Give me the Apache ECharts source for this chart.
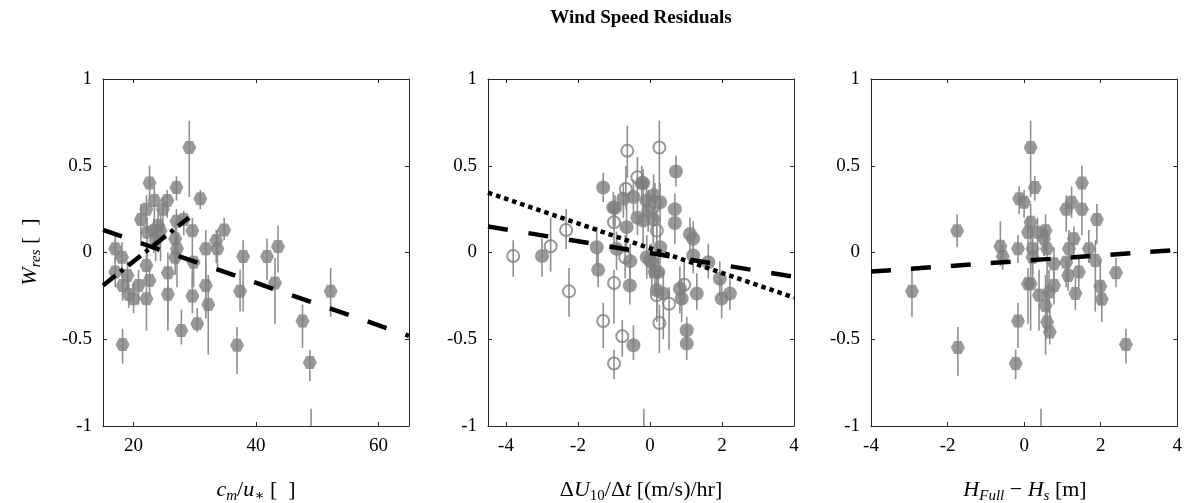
<!DOCTYPE html>
<html><head><meta charset="utf-8">
<script src="https://cdn.jsdelivr.net/npm/echarts@6/dist/echarts.min.js"></script>
<style>html,body{margin:0;padding:0;background:#fff}#c{width:1185px;height:503px}</style>
</head><body><div id="c"></div>
<script>
// ---------- Panel 1: c_m/u_* ----------
const p1Ticks = [20, 40, 60];
const p1x  = [29.1,22.6,27.0,30.9,23.4,25.5,22.1,24.8,21.2,27.0,28.2,24.0,22.2,23.3,24.4,29.6,34.8,33.5,23.6,26.8,27.1,31.8,33.7,17.0,18.1,26.8,22.1,29.8,37.9,41.8,43.6,17.0,19.0,25.6,22.6,18.2,20.8,31.8,43.1,19.2,25.6,37.4,20.0,22.1,29.6,32.2,30.4,27.8,18.2,36.9,47.6,52.2,48.8,49.0];
const p1y  = [0.605,0.40,0.375,0.31,0.30,0.30,0.25,0.25,0.19,0.18,0.19,0.155,0.117,0.126,0.126,0.126,0.13,0.069,0.069,0.079,0.021,0.021,0.021,0.021,-0.027,-0.027,-0.075,-0.056,-0.023,-0.023,0.034,-0.113,-0.132,-0.117,-0.161,-0.19,-0.19,-0.19,-0.176,-0.24,-0.24,-0.224,-0.266,-0.266,-0.25,-0.30,-0.41,-0.45,-0.53,-0.535,-0.395,-0.224,-0.634,-1.2];
const p1lo = [0.32,0.31,0.30,0.25,0.20,0.20,0.12,0.10,0.05,0.05,0.10,0.00,-0.05,0.00,-0.05,-0.20,0.07,-0.06,-0.05,-0.02,-0.20,-0.35,-0.10,-0.06,-0.10,-0.13,-0.18,-0.20,-0.34,-0.16,-0.115,-0.20,-0.22,-0.40,-0.25,-0.28,-0.30,-0.38,-0.41,-0.32,-0.45,-0.34,-0.35,-0.45,-0.35,-0.59,-0.46,-0.53,-0.64,-0.70,-0.55,-0.37,-0.74,-1.5];
const p1hi = [0.76,0.50,0.44,0.36,0.38,0.36,0.33,0.32,0.28,0.25,0.24,0.25,0.20,0.20,0.22,0.20,0.20,0.13,0.15,0.15,0.10,0.13,0.13,0.10,0.06,0.08,0.03,-0.03,0.07,0.08,0.155,-0.03,-0.05,0.00,-0.07,-0.10,-0.10,-0.05,-0.03,-0.15,-0.10,-0.10,-0.17,-0.20,-0.12,-0.13,-0.32,-0.33,-0.44,-0.43,-0.30,-0.09,-0.56,-0.9];
const fit1DashX = [15, 65],  fit1DashY = [0.13, -0.48];
const fit1DotDashX = [15, 29], fit1DotDashY = [-0.19, 0.20];

// ---------- Panel 2: dU10/dt ----------
const p2Ticks = [-4, -2, 0, 2, 4];
const p2fx  = [-3.0,-1.3,-1.02,-1.48,-1.44,-0.93,-0.97,-0.74,-0.46,-0.65,-0.23,-0.19,-0.19,-0.05,0.09,0.28,0.72,0.69,0.69,1.11,1.2,-0.09,0.05,0.28,1.2,1.62,-0.56,0.14,0.19,0.37,0.83,0.88,1.3,1.94,1.99,2.22,1.02,1.02,-0.46,0.0,0.23,-0.35,-0.1,0.1,-0.55,-0.17];
const p2fy  = [-0.02,0.375,0.26,0.03,-0.10,0.021,0.257,0.31,0.32,0.146,0.40,0.40,0.184,0.24,0.19,0.29,0.467,0.25,0.17,0.107,0.079,-0.027,-0.056,0.03,-0.017,-0.056,-0.19,-0.113,-0.218,-0.237,-0.209,-0.266,-0.237,-0.151,-0.266,-0.237,-0.448,-0.525,-0.535,-0.046,-0.113,0.20,0.30,0.33,-0.05,-1.2];
const p2flo = [-0.14,0.29,0.15,-0.08,-0.20,-0.10,0.15,0.20,0.22,0.02,0.30,0.30,0.05,0.12,0.05,0.15,0.38,0.15,0.05,0.00,-0.02,-0.15,-0.20,-0.10,-0.12,-0.15,-0.30,-0.25,-0.35,-0.50,-0.35,-0.40,-0.33,-0.25,-0.38,-0.33,-0.52,-0.62,-0.62,-0.15,-0.22,0.10,0.20,0.20,-0.15,-1.5];
const p2fhi = [0.08,0.46,0.35,0.15,0.00,0.12,0.33,0.40,0.42,0.28,0.50,0.48,0.30,0.36,0.30,0.40,0.56,0.34,0.28,0.20,0.18,0.10,0.05,0.15,0.08,0.05,-0.08,0.00,-0.10,-0.10,-0.08,-0.15,-0.12,-0.05,-0.15,-0.15,-0.37,-0.45,-0.42,0.05,0.00,0.30,0.42,0.45,0.05,-0.9];
const p2ox  = [-3.8,-2.76,-2.33,-2.25,-1.0,-1.3,-0.77,-1.0,-0.69,-0.63,0.26,-0.35,-0.67,-1.0,0.09,0.19,0.19,0.53,0.95,0.26,0.14];
const p2oy  = [-0.02,0.036,0.13,-0.224,-0.176,-0.395,-0.483,-0.64,-0.027,0.586,0.605,0.433,0.366,0.174,0.26,0.126,-0.247,-0.295,-0.186,-0.406,0.29];
const p2olo = [-0.14,-0.11,0.02,-0.37,-0.41,-0.55,-0.60,-0.73,-0.15,0.43,0.35,0.30,0.25,0.05,0.10,0.00,-0.40,-0.56,-0.30,-0.58,0.18];
const p2ohi = [0.07,0.20,0.25,-0.09,-0.10,-0.29,-0.39,-0.56,0.10,0.73,0.76,0.55,0.50,0.30,0.38,0.25,-0.10,-0.20,-0.05,-0.30,0.40];
const fit2DashX = [-4.5, 4], fit2DashY = [0.15, -0.14];
const fit2DotX  = [-4.5, 4], fit2DotY  = [0.345, -0.26];

// ---------- Panel 3: H_Full - H_s ----------
const p3Ticks = [-4, -2, 0, 2, 4];
const p3x  = [-1.75,-2.93,-1.73,-0.62,-0.56,-0.16,-0.16,-0.22,0.10,0.17,-0.13,0.0,0.28,0.17,0.10,1.51,1.10,1.24,1.51,1.90,0.56,0.35,0.52,1.30,0.22,0.60,1.17,1.69,0.22,0.78,1.10,1.86,1.43,1.15,2.40,0.17,0.78,0.65,0.39,1.34,1.99,2.03,0.56,0.60,0.67,2.66,0.44];
const p3y  = [0.126,-0.224,-0.548,0.036,-0.023,0.021,-0.395,-0.64,-0.18,0.605,0.31,0.29,0.375,0.174,0.117,0.40,0.25,0.29,0.25,0.19,0.126,0.117,0.079,0.079,0.021,0.021,0.021,0.021,-0.027,-0.065,-0.056,-0.046,-0.113,-0.132,-0.117,-0.18,-0.19,-0.228,-0.247,-0.237,-0.194,-0.27,-0.305,-0.40,-0.458,-0.53,-1.2];
const p3lo = [0.03,-0.37,-0.71,-0.08,-0.10,-0.06,-0.55,-0.73,-0.41,0.32,0.22,0.20,0.30,0.05,0.00,0.31,0.12,0.20,0.10,0.05,0.00,-0.05,-0.02,-0.02,-0.20,-0.35,-0.10,-0.06,-0.13,-0.18,-0.20,-0.34,-0.20,-0.22,-0.20,-0.45,-0.30,-0.35,-0.45,-0.33,-0.30,-0.40,-0.59,-0.46,-0.53,-0.64,-1.5];
const p3hi = [0.22,-0.09,-0.43,0.18,0.05,0.10,-0.29,-0.56,-0.09,0.76,0.38,0.36,0.44,0.28,0.20,0.50,0.33,0.38,0.32,0.28,0.22,0.20,0.15,0.15,0.10,0.13,0.13,0.13,0.08,0.03,-0.03,0.07,-0.03,-0.05,-0.03,-0.03,-0.10,-0.10,-0.10,-0.15,-0.05,-0.17,-0.13,-0.32,-0.33,-0.44,-0.9];
const fit3DashX = [-4, 4], fit3DashY = [-0.11, 0.015];

const yTicksInterval = 0.5;

// ---------- chart ----------
const FONT = '"Liberation Serif", "Times New Roman", "DejaVu Serif", serif';
const GRAY = '#808080';
const AX = '#262626';
const HEX = 'path://M0,5L2.9,0L9.1,0L12,5L9.1,10L2.9,10Z';

const grids = [
  {left: 103, top: 79, width: 306, height: 347},
  {left: 488, top: 79, width: 306, height: 347},
  {left: 871, top: 79, width: 307, height: 347}
];
const xRanges = [[15, 65], [-4.5, 4], [-4, 4]];
const xTicks = [p1Ticks, p2Ticks, p3Ticks];

const xAxes = [], yAxes = [];
grids.forEach((g, i) => {
  const tick = {inside: true, length: 4, lineStyle: {color: AX, width: 1}, customValues: xTicks[i]};
  xAxes.push({type: 'value', gridIndex: i, position: 'bottom', min: xRanges[i][0], max: xRanges[i][1],
    axisLine: {show: true, onZero: false, lineStyle: {color: AX, width: 1}}, axisTick: tick, splitLine: {show: false},
    axisLabel: {customValues: xTicks[i], fontFamily: FONT, fontSize: 19, color: '#000', margin: 11}});
  xAxes.push({type: 'value', gridIndex: i, position: 'top', min: xRanges[i][0], max: xRanges[i][1],
    axisLine: {show: true, onZero: false, lineStyle: {color: AX, width: 1}}, axisTick: tick, splitLine: {show: false},
    axisLabel: {show: false}});
  const ytick = {inside: true, length: 4, lineStyle: {color: AX, width: 1}};
  yAxes.push({type: 'value', gridIndex: i, position: 'left', min: -1, max: 1, interval: yTicksInterval,
    axisLine: {show: true, onZero: false, lineStyle: {color: AX, width: 1}}, axisTick: ytick, splitLine: {show: false},
    axisLabel: {fontFamily: FONT, fontSize: 19, color: '#000', margin: 11}});
  yAxes.push({type: 'value', gridIndex: i, position: 'right', min: -1, max: 1, interval: yTicksInterval,
    axisLine: {show: true, onZero: false, lineStyle: {color: AX, width: 1}}, axisTick: ytick, splitLine: {show: false},
    axisLabel: {show: false}});
});

function errBars(gi, xs, lo, hi) {
  return {type: 'custom', xAxisIndex: 2 * gi, yAxisIndex: 2 * gi, clip: true, z: 1, silent: true,
    data: xs.map((x, k) => [x, lo[k], hi[k]]), encode: {x: 0, y: [1, 2]},
    renderItem: (params, api) => {
      const a = api.coord([api.value(0), api.value(1)]);
      const b = api.coord([api.value(0), api.value(2)]);
      return {type: 'line', shape: {x1: a[0], y1: a[1], x2: b[0], y2: b[1]},
        style: {stroke: '#8f8f8f', lineWidth: 1.6}};
    }};
}
function pts(gi, xs, ys, opts) {
  return Object.assign({type: 'scatter', xAxisIndex: 2 * gi, yAxisIndex: 2 * gi, clip: true, z: 2, silent: true,
    data: xs.map((x, k) => [x, ys[k]])}, opts);
}
function fit(gi, xs, ys, dash, width) {
  return {type: 'line', xAxisIndex: 2 * gi, yAxisIndex: 2 * gi, z: 5, silent: true, symbol: 'none',
    data: xs.map((x, k) => [x, ys[k]]),
    lineStyle: {color: '#000', width: width, type: dash, cap: 'butt'}};
}

const series = [
  errBars(0, p1x, p1lo, p1hi),
  pts(0, p1x, p1y, {symbol: HEX, symbolSize: [14, 13], itemStyle: {color: GRAY}}),
  fit(0, fit1DashX, fit1DashY, [20, 20], 4.5),
  fit(0, fit1DotDashX, fit1DotDashY, [16, 6, 4, 6], 4.5),

  errBars(1, p2fx, p2flo, p2fhi),
  errBars(1, p2ox, p2olo, p2ohi),
  pts(1, p2fx, p2fy, {symbol: 'circle', symbolSize: 14, itemStyle: {color: GRAY}}),
  pts(1, p2ox, p2oy, {symbol: 'circle', symbolSize: 12, itemStyle: {color: 'rgba(255,255,255,0)', borderColor: GRAY, borderWidth: 2}}),
  fit(1, fit2DashX, fit2DashY, [20, 21], 4.5),
  fit(1, fit2DotX, fit2DotY, [4.5, 4], 4.5),

  errBars(2, p3x, p3lo, p3hi),
  pts(2, p3x, p3y, {symbol: HEX, symbolSize: [14, 13], itemStyle: {color: GRAY}}),
  fit(2, fit3DashX, fit3DashY, [20, 20], 4.5)
];

const base = {fontFamily: FONT, fontSize: 22, lineHeight: 28, fill: '#000', color: '#000', verticalAlign: 'middle'};
const RICH = {
  n: Object.assign({}, base),
  i: Object.assign({}, base, {fontStyle: 'italic'}),
  s: Object.assign({}, base, {fontStyle: 'italic', fontSize: 15, lineHeight: 12, verticalAlign: 'bottom'}),
  u: Object.assign({}, base, {fontSize: 15, lineHeight: 12, verticalAlign: 'bottom'})
};
function label(text, x, y, rot) {
  return {type: 'text', x: x, y: y, rotation: rot || 0, silent: true,
    style: {text: text, rich: RICH, font: '22px ' + FONT, fill: '#000',
      align: 'center', verticalAlign: 'middle', textAlign: 'center', textVerticalAlign: 'middle'}};
}

const chart = echarts.init(document.getElementById('c'), null, {renderer: 'canvas'});
chart.setOption({
  animation: false,
  backgroundColor: '#fff',
  grid: grids,
  xAxis: xAxes,
  yAxis: yAxes,
  series: series,
  graphic: [
    {type: 'text', x: 641, y: 18, silent: true,
      style: {text: 'Wind Speed Residuals', font: 'bold 19px ' + FONT, fill: '#000',
        align: 'center', verticalAlign: 'middle', textAlign: 'center', textVerticalAlign: 'middle'}},
    label('{i|W}{s|res}{n| [\u2002]}', 30, 252, Math.PI / 2),
    label('{i|c}{s|m}{n|/}{i|u}{u|∗}{n| [\u2002]}', 256, 490),
    label('{n|Δ}{i|U}{u|10}{n|/Δ}{i|t}{n| [(m/s)/hr]}', 641, 490),
    label('{i|H}{s|Full}{n| − }{i|H}{s|s}{n| [m]}', 1025, 490)
  ]
});
</script></body></html>
